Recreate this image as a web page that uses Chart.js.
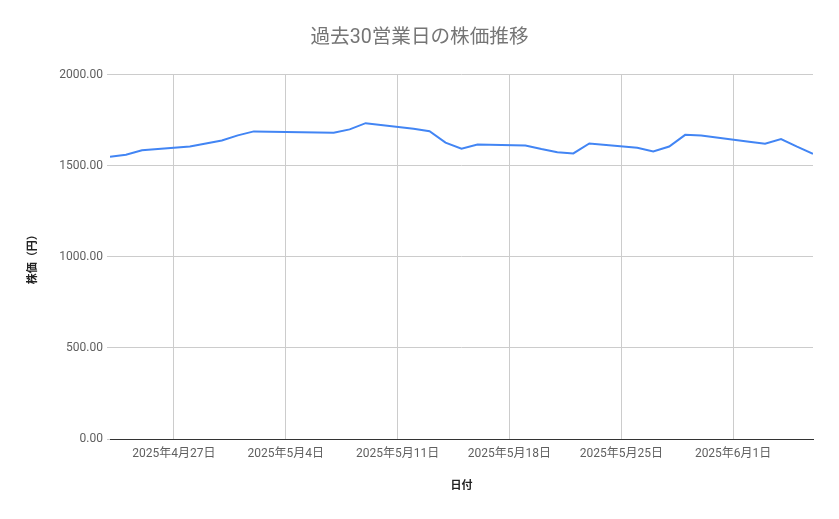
<!DOCTYPE html>
<html>
<head>
<meta charset="utf-8">
<script src="https://cdn.jsdelivr.net/npm/chart.js@4"></script>
<style>
  html, body { margin: 0; padding: 0; background: #fff; }
  canvas { display: block; }
</style>
</head>
<body>
<canvas id="stockChart" width="839" height="519"></canvas>
<script>
// 30 trading days (TSE holidays 4/29, 5/5, 5/6 skipped)
const tradeDates = [
    '2025-04-23', '2025-04-24', '2025-04-25', '2025-04-28', '2025-04-30',
    '2025-05-01', '2025-05-02', '2025-05-07', '2025-05-08', '2025-05-09',
    '2025-05-12', '2025-05-13', '2025-05-14', '2025-05-15', '2025-05-16',
    '2025-05-19', '2025-05-20', '2025-05-21', '2025-05-22', '2025-05-23',
    '2025-05-26', '2025-05-27', '2025-05-28', '2025-05-29', '2025-05-30',
    '2025-06-02', '2025-06-03', '2025-06-04', '2025-06-05', '2025-06-06',
];
const closePrices = [
    1549, 1560, 1584, 1605, 1638,
    1666, 1688, 1681, 1699, 1733,
    1702, 1689, 1626, 1593, 1616,
    1611, 1591, 1574, 1567, 1622,
    1598, 1578, 1605, 1669, 1666,
    1631, 1620, 1646, 1604, 1565,
];
const tickDates = ['2025-04-27', '2025-05-04', '2025-05-11', '2025-05-18', '2025-05-25', '2025-06-01'];
const tickLabels = ['2025年4月27日', '2025年5月4日', '2025年5月11日', '2025年5月18日', '2025年5月25日', '2025年6月1日'];
const yTicks = [0, 500, 1000, 1500, 2000];

const DAY = 86400000;
const startTime = Date.parse(tradeDates[0]);
const dayOf = (d) => (Date.parse(d) - startTime) / DAY;

const fontFamily = "Roboto, 'Noto Sans CJK JP', sans-serif";

const ctx = document.getElementById('stockChart').getContext('2d');

const stockChart = new Chart(ctx, {
    type: 'line',
    data: {
        datasets: [{
            label: '株価',
            data: tradeDates.map((d, i) => ({ x: dayOf(d), y: closePrices[i] })),
            borderColor: '#4285F4',
            backgroundColor: '#4285F4',
            borderWidth: 2,
            pointRadius: 0,
            tension: 0,
        }],
    },
    options: {
        responsive: false,
        animation: false,
        devicePixelRatio: 1,
        layout: {
            // symmetric so the title centres on the canvas
            padding: { left: 26, right: 26, top: 0, bottom: 0 },
        },
        plugins: {
            legend: { display: false },
            tooltip: { enabled: false },
            title: {
                display: true,
                text: '過去30営業日の株価推移',
                color: '#757575',
                font: { family: fontFamily, size: 19.6, weight: 'normal' },
                padding: { top: 26, bottom: 25 },
            },
        },
        scales: {
            x: {
                type: 'linear',
                min: 0,
                max: dayOf('2025-06-06'),
                afterBuildTicks: (scale) => {
                    scale.ticks = tickDates.map(d => ({ value: dayOf(d) }));
                },
                afterFit: (scale) => { scale.height = 80; },
                ticks: {
                    autoSkip: false,
                    maxRotation: 0,
                    padding: 8,
                    color: '#5f5f5f',
                    font: { family: fontFamily, size: 12 },
                    callback: (value) => {
                        const idx = tickDates.findIndex(d => dayOf(d) === value);
                        return idx >= 0 ? tickLabels[idx] : '';
                    },
                },
                grid: {
                    color: '#cccccc',
                    drawTicks: false,
                },
                border: { display: true, color: '#333333', width: 1 },
                title: {
                    display: true,
                    text: '日付',
                    color: '#222222',
                    font: { family: fontFamily, size: 11, weight: 'bold' },
                    padding: { top: 0, bottom: 26 },
                },
            },
            y: {
                min: 0,
                max: 2000,
                afterBuildTicks: (scale) => {
                    scale.ticks = yTicks.map(v => ({ value: v }));
                },
                afterFit: (scale) => { scale.width = 84; },
                ticks: {
                    padding: 4,
                    color: '#5f5f5f',
                    font: { family: fontFamily, size: 12 },
                    callback: (value) => Number(value).toFixed(2),
                },
                grid: {
                    color: '#cccccc',
                    tickLength: 3,
                },
                border: { display: false },
                title: {
                    display: true,
                    text: '株価（円）',
                    color: '#222222',
                    font: { family: fontFamily, size: 11, weight: 'bold' },
                    padding: { top: 1, bottom: 0 },
                },
            },
        },
    },
});
</script>
</body>
</html>
